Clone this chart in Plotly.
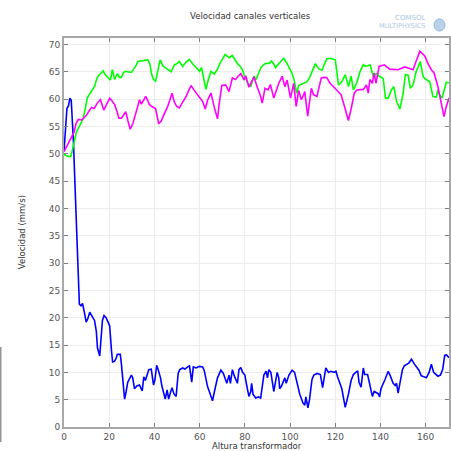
import plotly.graph_objects as go

# Velocity along the vertical channels versus transformer height
blue_x = [0, 0.4, 0.8, 1.3, 2, 2.6, 3.2, 3.6, 4.2, 4.8, 5.6, 6.3, 6.8, 7.5, 8.2, 9, 9.8, 10.5, 11.4,
          12.5, 13.5, 14.3, 14.8, 15.8, 16.5, 17, 17.7, 18.6, 19.5, 20.2, 21, 21.5, 22.3, 23, 23.6,
          24.9, 25.4, 26, 26.8, 27.5, 28.2, 29.2, 29.8, 30.4, 31.2, 32.2, 33.4, 34.6, 35.3, 36, 36.8,
          37.5, 38.6, 39.6, 40.2, 41, 41.8, 42.7, 43.3, 44.1, 44.8, 45.6, 46.3, 47.2, 47.8, 48.6,
          49.6, 50.5, 51.2, 52.5, 53.5, 54.7, 55.5, 56.5, 57.2, 58.5, 59.8, 61.3, 62, 63.5, 65, 65.7,
          66.5, 67.9, 69.4, 70.5, 72, 73, 73.6, 74.5, 75.3, 76.7, 77.4, 78.2, 79, 80, 81.1, 81.8,
          82.6, 83, 83.6, 84.8, 86, 87, 88.4, 89.4, 90, 90.6, 91.5, 92.8, 94.3, 95, 95.4, 96.2, 97.7,
          98.3, 99.5, 100.9, 102, 103, 104.3, 105.7, 106.5, 107, 107.9, 108.6, 109.7, 110.5, 112,
          113.4, 114.4, 115.8, 117, 118, 119.5, 120.3, 121, 122.9, 124.4, 125.8, 127, 128, 129.9,
          130.5, 131.4, 132.4, 133, 134.3, 135, 136.4, 137.2, 139, 139.6, 140.2, 142, 143.4, 144.2,
          145.6, 146.5, 147.1, 147.8, 148.6, 149.7, 150.5, 152.5, 153.7, 155, 157, 158, 160.3,
          161.5, 162.5, 163.5, 165.4, 166.5, 167.5, 168.4, 169.2, 170.3]
blue_y = [50.5, 52.5, 55, 58.3, 58.8, 60.2, 59.8, 57, 52, 45, 35, 27, 22.5, 22.2, 22.6, 21, 19.2, 19.8,
          21, 20.2, 19.5, 17.5, 14.5, 13, 17, 19.5, 20.4, 20, 19.2, 18.5, 14, 11.9, 12, 12.5, 13.3,
          13.3, 11.5, 8.5, 5.1, 6.5, 8.2, 9, 9.5, 9, 7, 7.5, 7.7, 6.6, 9.2, 8.5, 9.8, 10.5, 10.6,
          7.7, 8.6, 11.3, 10.3, 9, 7.5, 6, 5.1, 6.8, 5.1, 6.5, 7.2, 6.1, 5.6, 9.8, 10.5, 10.8, 10.6,
          11, 11.2, 8.2, 11, 10.8, 11.1, 11, 10.4, 7.4, 5.6, 4.8, 6.4, 9, 10.4, 9.8, 8, 9.5, 8, 10.5,
          9.4, 8, 10.5, 10.9, 10, 9.5, 7, 5.6, 6.5, 8, 6, 5.3, 5.5, 5.3, 9.5, 10.2, 9, 10.5, 10, 6.5,
          10, 9, 7, 7.5, 9, 8, 9.5, 10.4, 10, 8.2, 6, 4.4, 4, 5.5, 3.5, 5, 8.7, 9.5, 9.8, 9.6, 7.2,
          10.8, 10, 10.2, 10, 10.2, 9.2, 7, 3.6, 6, 8.5, 9.6, 10.3, 8.2, 7.3, 10.8, 9.6, 9.6, 8.2,
          5.6, 6.5, 6.1, 5.5, 7, 8.7, 10.2, 9.5, 8, 7.6, 8, 6.2, 8, 10.5, 11.2, 11.7, 12.4, 11.5,
          10.4, 9.4, 9, 10, 11.5, 10, 9.3, 9.5, 10.5, 13.1, 13.2, 12.7]

green_x = [0, 0.8, 1.9, 3, 3.6, 4.5, 5.5, 7, 8.5, 9.5, 10.3, 11.4, 12.5, 13.6, 14.3, 15.1, 16.2, 17.3,
           18.2, 19.1, 20.5, 21.4, 22.4, 23.6, 24.5, 25.4, 26.2, 27.1, 28.5, 29.8, 30.8, 31.7, 32.7,
           34.5, 36, 37.1, 38, 38.8, 39.6, 40.5, 41.5, 42.5, 43.3, 44, 45.4, 46.5, 47.4, 48.8, 50,
           51, 52.5, 54, 55.4, 56.9, 58, 59.1, 60, 60.8, 61.8, 62.8, 63.8, 65, 66.5, 67.8, 68.9, 70,
           71.3, 72.2, 73, 74.5, 75.6, 76.7, 78, 78.9, 79.6, 80.4, 81.5, 82.6, 84, 85, 86, 87, 88,
           88.9, 91, 91.8, 92.7, 93.6, 95, 96, 97.2, 98.7, 100, 100.9, 101.8, 102.4, 102.9, 103.8,
           105.3, 106.5, 107.5, 108.7, 109.7, 111.2, 112.6, 114.1, 115.3, 116.3, 117.8, 119, 120,
           120.7, 121.4, 122.9, 124.4, 125.8, 127, 128, 129.5, 131, 132.4, 133.5, 134.6, 135.4,
           136.8, 138.2, 139.5, 140.5, 141.2, 142.2, 143.4, 144.8, 145.9, 147.1, 148.6, 150, 151,
           152.2, 153.2, 154.4, 155.8, 157.6, 158.8, 159.5, 160.5, 161.8, 163.2, 164.7, 165.4,
           166.1, 167.2, 168.2, 169.1, 170.3]
green_y = [50, 49.7, 49.5, 49.5, 50.5, 52.5, 54, 55.2, 56.5, 58.5, 60.2, 61, 61.8, 62.4, 63.5, 64.2,
           64.7, 65.2, 64.5, 64.1, 63.5, 65.4, 63.6, 64.7, 64, 64, 64.8, 65.1, 65, 64.9, 65.5, 66,
           66.9, 67, 67.1, 67.2, 66.4, 64.5, 63.6, 63.3, 65.2, 67.2, 66.5, 66, 65.6, 65.3, 65, 66.3,
           66.5, 66.9, 66, 66.8, 67.3, 66.5, 66, 65.4, 65.1, 65.8, 63.5, 61.8, 63.5, 65.1, 64.6,
           65.4, 66.5, 67.4, 68.2, 67.9, 67.6, 68, 67.3, 66.5, 66, 65.4, 64.5, 63.9, 62.8, 62.3,
           64.2, 63.6, 64.5, 65.7, 66.2, 66.5, 66.6, 67, 66.5, 65.8, 66.5, 67, 67.5, 66.5, 65.5,
           64.7, 63.5, 62.2, 61.1, 62.5, 62.8, 63.1, 63.2, 64, 64.9, 66.5, 65.6, 65.3, 66.5, 67.4,
           67.5, 67.4, 67.2, 65, 62.6, 63.2, 64.5, 62.3, 64.2, 61.7, 63, 65.1, 66.3, 66, 66.1, 66.3,
           64.2, 64.7, 64.2, 63.9, 63.8, 60.2, 60.2, 61.7, 62.3, 59.6, 58.2, 61, 64.5, 64.4, 62,
           62.6, 65.1, 66.9, 64.2, 63.8, 63.5, 63.2, 60.5, 60.4, 61.7, 60.8, 60.2, 61.5, 63.1, 63]

magenta_x = [0, 1, 1.9, 2.6, 3.5, 4.5, 5.3, 6.3, 7.8, 8.8, 10, 11, 12.2, 13.3, 14.2, 15.1, 16.1, 16.8,
             17.6, 18.8, 20.2, 21.2, 22.4, 23.4, 24.3, 25.4, 26.3, 27.3, 28.3, 29.3, 30.5, 31.7,
             32.5, 33.4, 34.2, 35.2, 36.1, 37, 37.8, 39, 40.5, 41.9, 43, 44, 45, 45.8, 46.8, 47.8,
             48.8, 49.8, 51, 52.5, 54, 55.2, 56.2, 57.3, 58.4, 60, 61.3, 62.5, 63.5, 65, 66.5, 67.9,
             68.6, 69.8, 71.5, 73, 74.5, 75.9, 77, 78.2, 79.7, 80.4, 81.8, 83, 84, 85.5, 87, 87.7,
             88.9, 90.3, 91.3, 92.8, 94, 95, 96.5, 97.7, 98.7, 100.2, 101.6, 102.7, 103.8, 105, 106,
             106.5, 107.8, 109.4, 110.4, 111.9, 113.8, 115.5, 116.3, 117.7, 119.9, 121.5, 122.6,
             124.4, 125.8, 127, 128.4, 129.5, 132.4, 133.8, 134.6, 135.3, 136.4, 137.2, 138, 139.4,
             141.6, 144.1, 147.8, 150.8, 152.5, 154.4, 155.8, 157.4, 159.6, 161, 162.5, 163.7,
             164.6, 165.4, 166.5, 167.5, 168.1, 169, 170.3]
magenta_y = [50.4, 51.2, 51.9, 52.5, 53.2, 54, 55.5, 56.3, 56.2, 56.6, 57.1, 57.8, 58.5, 58.3, 59,
             59.5, 59.9, 59, 58, 59, 60.2, 59.7, 59, 57.8, 56.5, 56.5, 57, 57.7, 56, 54.5, 55.6,
             57.1, 58.5, 59.9, 59.1, 59.8, 60.5, 59.8, 59, 58.6, 58.3, 55.5, 56, 57, 57.8, 58.6,
             59.8, 61.1, 59.5, 58.7, 58.4, 59.4, 60.5, 61.6, 62.5, 61.8, 61.1, 60.3, 59.6, 58.2,
             59.8, 61.1, 58.5, 56.4, 59, 62.5, 62.6, 61.4, 63.9, 63.6, 64.2, 64.7, 63.5, 64.3, 62.2,
             63.3, 64.1, 62.2, 60.5, 59.3, 62, 61.7, 62.7, 60.2, 61.8, 62.9, 64.2, 62.3, 63.5, 60.2,
             62.9, 58.7, 61.6, 59.9, 60.8, 61.4, 56.9, 62, 60.8, 60.5, 63.9, 64, 63.9, 62.9, 62,
             61.3, 60.8, 58.2, 56.1, 58.2, 61.1, 61.7, 61.8, 62.6, 61.1, 63.6, 62.9, 64.8, 62.9, 66,
             66.3, 65.5, 65.4, 65.9, 65.6, 65.4, 67, 68.8, 67.9, 66.5, 65.4, 64.8, 63.5, 62.3, 60,
             57.5, 56.8, 58.5, 60.2]

x_ticks = [0, 20, 40, 60, 80, 100, 120, 140, 160]
y_ticks = [0, 5, 10, 15, 20, 25, 30, 35, 40, 45, 50, 55, 60, 65, 70]

fig = go.Figure()
for xs, ys, col in [(blue_x, blue_y, "#0000ff"),
                    (green_x, green_y, "#00ff00"),
                    (magenta_x, magenta_y, "#ff00ff")]:
    fig.add_trace(go.Scatter(x=xs, y=ys, mode="lines",
                             line=dict(color=col, width=1.6), showlegend=False))

axis_common = dict(
    showgrid=True, gridcolor="#ececec", gridwidth=1,
    showline=True, linecolor="#a8a8a8", linewidth=2,
    ticks="inside", ticklen=4, tickcolor="#808080", tickwidth=1,
    mirror="ticks", zeroline=False,
    tickfont=dict(family="DejaVu Sans", size=9, color="#555555"),
)

# plot area in pixels: left 64, right 451, top 38, bottom 427
PW, PH = 387, 389


def px(x):
    return (x - 64) / PW


def py(y):
    return (427 - y) / PH


fig.update_layout(
    width=451, height=451,
    margin=dict(l=64, r=0, t=38, b=24),
    paper_bgcolor="white", plot_bgcolor="white",
    font=dict(family="DejaVu Sans", size=9, color="#444444"),
    xaxis=dict(range=[0, 170.3], tickvals=x_ticks, ticklabelstandoff=0, **axis_common),
    yaxis=dict(range=[0, 71.2], tickvals=y_ticks, **axis_common),
    annotations=[
        dict(text="Velocidad canales verticales", xref="paper", yref="paper",
             x=px(189), y=py(16), yanchor="middle", showarrow=False,
             font=dict(size=8.5, color="#333333")),
        dict(text="Altura transformador", xref="paper", yref="paper",
             x=px(258), y=py(446), yanchor="middle", showarrow=False,
             font=dict(size=8.5, color="#333333")),
        dict(text="Velocidad (mm/s)", xref="paper", yref="paper", textangle=-90,
             x=px(22), y=py(232), xanchor="center", yanchor="middle", showarrow=False,
             font=dict(size=8.5, color="#333333")),
        dict(text="COMSOL", xref="paper", yref="paper",
             x=px(412), y=py(18), xanchor="center", yanchor="middle", showarrow=False,
             font=dict(size=7, color="#a9c6e3")),
        dict(text="MULTIPHYSICS", xref="paper", yref="paper",
             x=px(404), y=py(26), xanchor="center", yanchor="middle", showarrow=False,
             font=dict(size=6.5, color="#a9c6e3")),
    ],
    shapes=[
        dict(type="line", xref="paper", yref="paper",
             x0=px(0.5), x1=px(0.5), y0=py(442), y1=py(347),
             line=dict(color="#606060", width=1)),
        dict(type="circle", xref="paper", yref="paper",
             x0=px(436), x1=px(447), y0=py(31), y1=py(19),
             line=dict(color="#8fb5da", width=1), fillcolor="#b9d2ea"),
    ],
)

fig.write_html("out.html")
